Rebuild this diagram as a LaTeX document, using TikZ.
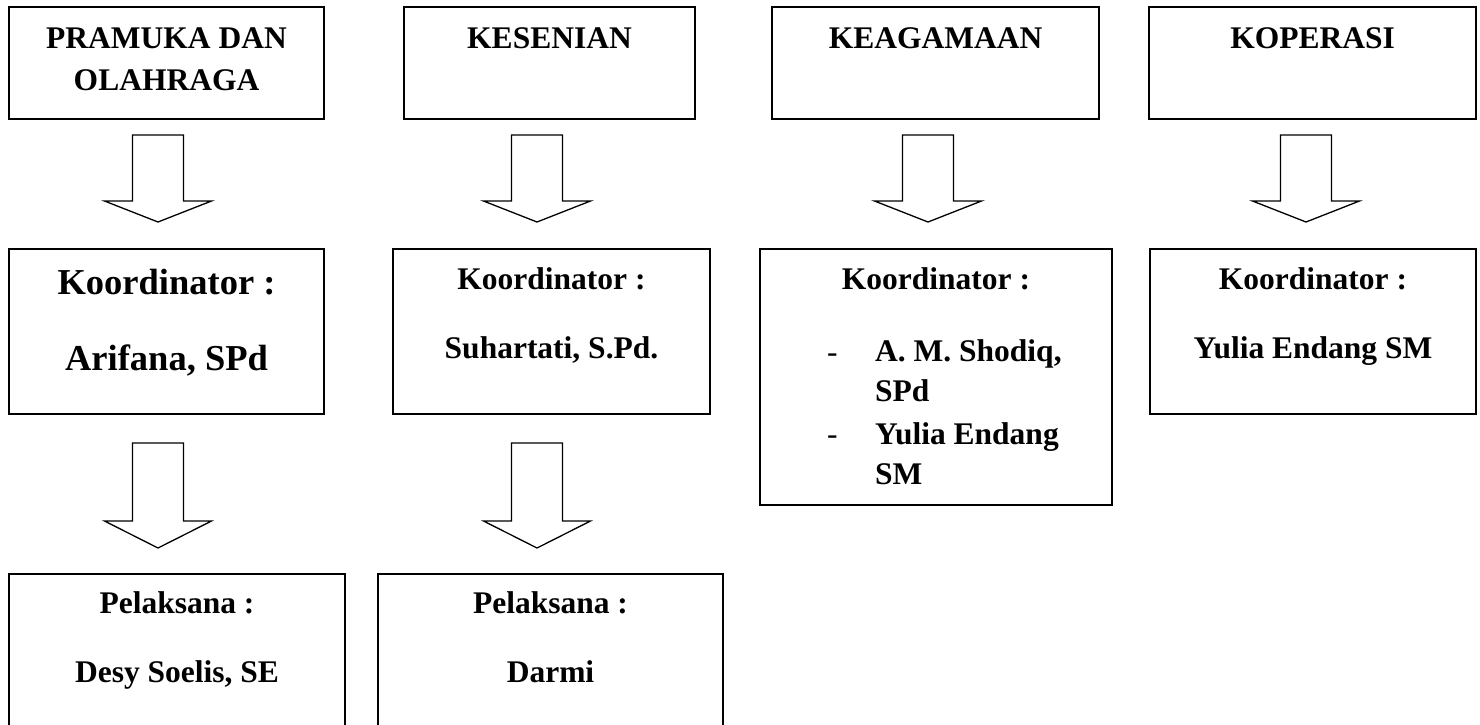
\documentclass[tikz,border=0pt]{standalone}
\usepackage{fontspec}
\setmainfont{Liberation Serif}
\usepackage{tikz}
\usetikzlibrary{calc}
\usetikzlibrary{positioning}

\tikzset{
  kotak/.style={draw, line width=2pt, rectangle, inner sep=0pt, anchor=north west},
  tulisan/.style={font=\bfseries\fontsize{31.5}{42}\selectfont, anchor=base, align=center, inner sep=0pt},
  tulisanbesar/.style={tulisan, font=\bfseries\fontsize{36.5}{44}\selectfont},
  strip/.style={font=\fontsize{31.5}{40}\selectfont, anchor=base west, inner sep=0pt},
  daftar/.style={font=\bfseries\fontsize{31.5}{39.5}\selectfont, anchor=base west, align=left, inner sep=0pt},
  panah/.style={line width=1.3pt, line join=miter},
}
% #1 node, #2 geser x, #3 jarak, #4 batang, #5 kepala
\newcommand{\panahblok}[5]{%
  \draw[panah] ($(#1.south)+(#2,#3)$) ++(-25.5,0) -- ++(51,0) -- ++(0,#4) -- ++(28,0)
     -- ++(-53.5,#5) -- ++(-53.5,-#5) -- ++(28,0) -- cycle;}

\begin{document}
\begin{tikzpicture}[x=1pt,y=-1pt]
\useasboundingbox (0,0) rectangle (1480,724);
%% bidang
\node[kotak, minimum width=315pt, minimum height=112pt] (bid1) at (8,6) {};
\node[kotak, minimum width=291pt, minimum height=112pt] (bid2) at (403,6) {};
\node[kotak, minimum width=327pt, minimum height=112pt] (bid3) at (771,6) {};
\node[kotak, minimum width=327pt, minimum height=112pt] (bid4) at (1148,6) {};
\node[tulisan] (bid1t) at ($(bid1.north)+(0,84)$) {PRAMUKA DAN\\OLAHRAGA};
\node[tulisan] (bid2t) at ($(bid2.north)+(0,42)$) {KESENIAN};
\node[tulisan] (bid3t) at ($(bid3.north)+(0,42)$) {KEAGAMAAN};
\node[tulisan] (bid4t) at ($(bid4.north)+(0,42)$) {KOPERASI};

%% koordinator
\node[kotak, minimum width=315pt, minimum height=165pt] (koor1) at (8,248) {};
\node[kotak, minimum width=317pt, minimum height=165pt] (koor2) at (392,248) {};
\node[kotak, minimum width=352pt, minimum height=256pt] (koor3) at (759,248) {};
\node[kotak, minimum width=326pt, minimum height=165pt] (koor4) at (1149,248) {};
\node[tulisanbesar] (koor1a) at ($(koor1.north)+(0,46)$) {Koordinator :};
\node[tulisanbesar] (koor1b) at ($(koor1.north)+(0,122)$) {Arifana, SPd};
\node[tulisan] (koor2a) at ($(koor2.north)+(0,41)$) {Koordinator :};
\node[tulisan] (koor2b) at ($(koor2.north)+(0,110)$) {Suhartati, S.Pd.};
\node[tulisan] (koor3a) at ($(koor3.north)+(0,41)$) {Koordinator :};
\node[strip] (koor3s1) at ($(koor3.north west)+(68,114)$) {-};
\node[daftar] (koor3b) at ($(koor3.north west)+(116,153)$) {A. M. Shodiq,\\SPd};
\node[strip] (koor3s2) at ($(koor3.north west)+(68,196)$) {-};
\node[daftar] (koor3c) at ($(koor3.north west)+(116,236)$) {Yulia Endang\\SM};
\node[tulisan] (koor4a) at ($(koor4.north)+(0,41)$) {Koordinator :};
\node[tulisan] (koor4b) at ($(koor4.north)+(0,110)$) {Yulia Endang SM};

%% pelaksana
\node[kotak, minimum width=336pt, minimum height=155pt] (pel1) at (8,573) {};
\node[kotak, minimum width=345pt, minimum height=155pt] (pel2) at (377,573) {};
\node[tulisan] (pel1a) at ($(pel1.north)+(0,40)$) {Pelaksana :};
\node[tulisan] (pel1b) at ($(pel1.north)+(0,109)$) {Desy Soelis, SE};
\node[tulisan] (pel2a) at ($(pel2.north)+(0,40)$) {Pelaksana :};
\node[tulisan] (pel2b) at ($(pel2.north)+(0,109)$) {Darmi};

%% panah
\panahblok{bid1}{-8.5}{15}{66}{21}
\panahblok{bid2}{-12.5}{15}{66}{21}
\panahblok{bid3}{-7.5}{15}{66}{21}
\panahblok{bid4}{-6.5}{15}{66}{21}
\panahblok{koor1}{-8.5}{28}{78}{27}
\panahblok{koor2}{-14.5}{28}{78}{27}
\end{tikzpicture}
\end{document}
